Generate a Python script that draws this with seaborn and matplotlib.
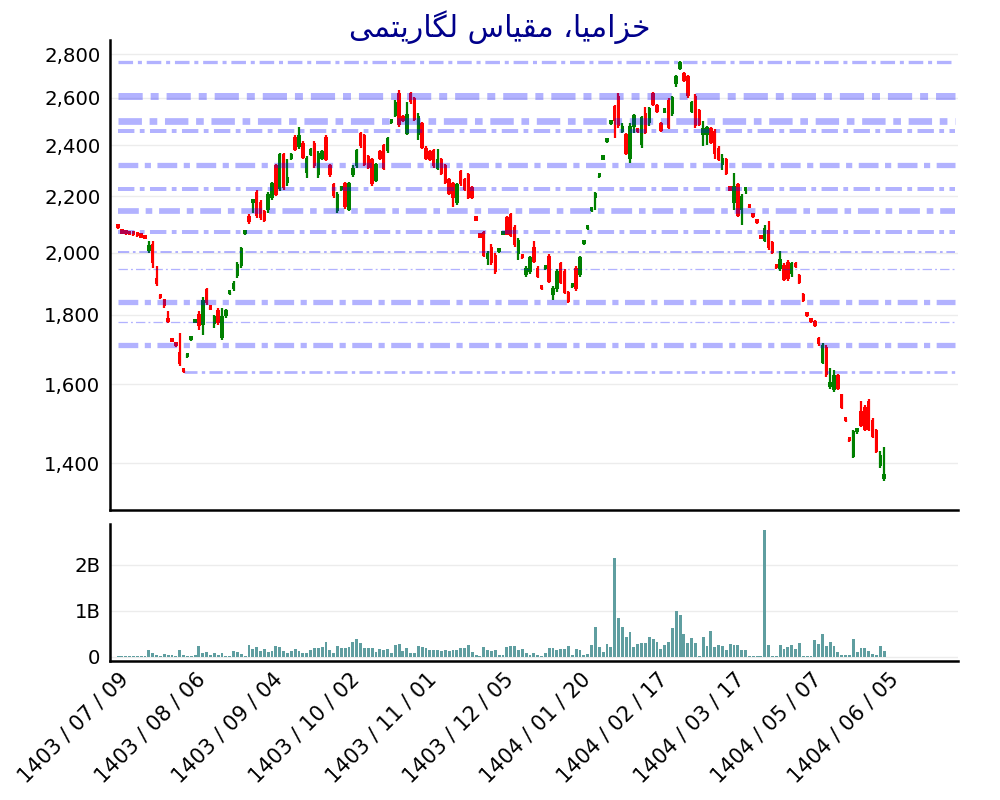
import numpy as np
import pandas as pd
import matplotlib
matplotlib.use('Agg')
import matplotlib.pyplot as plt
from matplotlib.ticker import FuncFormatter, FixedLocator, NullLocator
import seaborn as sns

# title (logical order, shaped below since matplotlib has no Arabic shaping)
title = "خزامیا، مقیاس لگاریتمی"

# x tick labels, one every 20 trading days
tick_labels = ["1403 / 07 / 09", "1403 / 08 / 06", "1403 / 09 / 04", "1403 / 10 / 02",
               "1403 / 11 / 01", "1403 / 12 / 05", "1404 / 01 / 20", "1404 / 02 / 17",
               "1404 / 03 / 17", "1404 / 05 / 07", "1404 / 06 / 05"]

# daily OHLC
opens = [
    2088, 2070, 2067, 2064, 2062, 2060, 2056, 2052, 2005, 2030,
    1915, 1858, 1848, 1790, 1726, 1712, 1690, 1638, 1676, 1724,
    1776, 1803, 1768, 1880, 1822, 1772, 1815, 1732, 1795, 1864,
    1880, 1922, 1955, 2064, 2130, 2175, 2215, 2180, 2145, 2150,
    2195, 2320, 2228, 2365, 2250, 2345, 2435, 2392, 2410, 2288,
    2360, 2410, 2280, 2345, 2432, 2320, 2245, 2145, 2225, 2250,
    2150, 2280, 2315, 2450, 2440, 2355, 2345, 2260, 2375, 2400,
    2375, 2490, 2520, 2620, 2520, 2445, 2620, 2600, 2440, 2490,
    2390, 2375, 2380, 2305, 2345, 2320, 2265, 2250, 2175, 2295,
    2265, 2285, 2235, 2118, 2058, 2070, 1980, 2020, 1993, 2002,
    2062, 2125, 2135, 2090, 1995, 1988, 1925, 1935, 2020, 1950,
    1884, 1945, 1990, 1860, 1880, 1965, 1940, 1870, 1886, 1950,
    1925, 2028, 2082, 2146, 2195, 2272, 2342, 2412, 2486, 2565,
    2610, 2455, 2445, 2345, 2475, 2465, 2400, 2535, 2490, 2620,
    2570, 2490, 2536, 2590, 2530, 2660, 2730, 2710, 2700, 2540,
    2610, 2545, 2440, 2440, 2470, 2460, 2390, 2320, 2345, 2228,
    2175, 2245, 2150, 2220, 2162, 2127, 2107, 2052, 2040, 2080,
    2035, 1952, 1945, 1960, 1970, 1930, 1962, 1925, 1865, 1799,
    1782, 1780, 1730, 1660, 1705, 1592, 1585, 1625, 1573, 1507,
    1457, 1415, 1475, 1530, 1540, 1555, 1505, 1480, 1392, 1362,
]
highs = [
    2090, 2071, 2068, 2066, 2064, 2062, 2058, 2054, 2040, 2040,
    1955, 1860, 1850, 1812, 1728, 1714, 1745, 1640, 1684, 1732,
    1784, 1812, 1855, 1885, 1824, 1800, 1822, 1820, 1818, 1872,
    1905, 1970, 2020, 2072, 2135, 2190, 2225, 2185, 2150, 2215,
    2255, 2325, 2370, 2370, 2345, 2368, 2440, 2475, 2415, 2355,
    2390, 2415, 2375, 2380, 2440, 2325, 2250, 2215, 2240, 2255,
    2255, 2320, 2385, 2455, 2445, 2360, 2350, 2330, 2380, 2405,
    2435, 2500, 2590, 2635, 2525, 2580, 2625, 2605, 2535, 2495,
    2395, 2380, 2385, 2385, 2350, 2325, 2270, 2255, 2250, 2300,
    2270, 2290, 2240, 2120, 2060, 2075, 2005, 2030, 1998, 2008,
    2068, 2130, 2140, 2095, 2050, 1990, 1955, 1990, 2040, 1955,
    1886, 1952, 1995, 1890, 1945, 1970, 1945, 1875, 1893, 1955,
    1990, 2034, 2088, 2152, 2215, 2278, 2348, 2418, 2494, 2570,
    2620, 2490, 2450, 2490, 2530, 2470, 2520, 2560, 2560, 2625,
    2575, 2495, 2544, 2600, 2610, 2705, 2770, 2715, 2705, 2585,
    2615, 2550, 2500, 2480, 2475, 2465, 2395, 2365, 2350, 2230,
    2290, 2250, 2210, 2228, 2164, 2129, 2109, 2054, 2095, 2110,
    2040, 1954, 2005, 1965, 1975, 1970, 1968, 1928, 1868, 1801,
    1784, 1785, 1735, 1715, 1710, 1645, 1640, 1628, 1575, 1509,
    1459, 1482, 1484, 1555, 1545, 1560, 1510, 1484, 1428, 1438,
]
lows = [
    2082, 2064, 2062, 2060, 2058, 2055, 2050, 2046, 2000, 1950,
    1890, 1850, 1822, 1776, 1718, 1704, 1650, 1632, 1674, 1722,
    1774, 1755, 1740, 1830, 1814, 1760, 1770, 1725, 1790, 1862,
    1875, 1915, 1950, 2062, 2100, 2140, 2120, 2115, 2105, 2140,
    2185, 2200, 2220, 2225, 2240, 2340, 2375, 2385, 2345, 2270,
    2355, 2310, 2270, 2340, 2335, 2275, 2195, 2140, 2220, 2155,
    2145, 2275, 2310, 2390, 2315, 2305, 2240, 2255, 2340, 2300,
    2370, 2488, 2515, 2475, 2495, 2440, 2575, 2500, 2420, 2385,
    2340, 2335, 2310, 2300, 2280, 2245, 2205, 2160, 2170, 2240,
    2220, 2190, 2190, 2110, 2050, 1985, 1960, 1960, 1930, 2000,
    2060, 2060, 2055, 2020, 1975, 1980, 1920, 1930, 1965, 1915,
    1878, 1943, 1900, 1845, 1870, 1895, 1865, 1835, 1884, 1875,
    1920, 2026, 2080, 2144, 2150, 2270, 2340, 2410, 2484, 2430,
    2470, 2450, 2360, 2330, 2450, 2450, 2390, 2445, 2480, 2565,
    2535, 2455, 2534, 2465, 2520, 2650, 2725, 2670, 2600, 2535,
    2470, 2480, 2395, 2400, 2405, 2345, 2335, 2300, 2280, 2220,
    2150, 2125, 2095, 2210, 2156, 2121, 2101, 2046, 2035, 2010,
    1995, 1946, 1940, 1905, 1905, 1920, 1948, 1895, 1838, 1793,
    1776, 1762, 1708, 1655, 1620, 1588, 1580, 1585, 1535, 1501,
    1451, 1412, 1472, 1488, 1478, 1478, 1460, 1423, 1388, 1358,
]
closes = [
    2084, 2066, 2064, 2062, 2060, 2057, 2052, 2048, 2025, 1965,
    1895, 1852, 1828, 1778, 1720, 1706, 1655, 1634, 1682, 1730,
    1782, 1765, 1845, 1835, 1816, 1795, 1775, 1795, 1815, 1870,
    1900, 1962, 2015, 2070, 2105, 2188, 2128, 2120, 2110, 2210,
    2250, 2205, 2365, 2232, 2272, 2365, 2382, 2440, 2350, 2350,
    2385, 2315, 2370, 2375, 2340, 2280, 2200, 2210, 2235, 2160,
    2250, 2310, 2380, 2395, 2322, 2310, 2245, 2325, 2345, 2305,
    2430, 2498, 2580, 2482, 2500, 2530, 2580, 2505, 2520, 2390,
    2345, 2340, 2315, 2345, 2285, 2250, 2210, 2195, 2245, 2245,
    2225, 2195, 2195, 2112, 2052, 1990, 2000, 1965, 1935, 2006,
    2066, 2062, 2058, 2025, 2045, 1982, 1950, 1985, 1970, 1918,
    1880, 1950, 1902, 1885, 1940, 1900, 1868, 1838, 1891, 1880,
    1985, 2032, 2086, 2150, 2212, 2276, 2346, 2416, 2492, 2500,
    2480, 2480, 2365, 2480, 2525, 2455, 2515, 2450, 2555, 2570,
    2540, 2460, 2542, 2470, 2605, 2700, 2762, 2675, 2610, 2580,
    2480, 2485, 2470, 2475, 2410, 2365, 2340, 2350, 2285, 2222,
    2240, 2130, 2200, 2226, 2158, 2123, 2103, 2048, 2085, 2015,
    1998, 1948, 1980, 1910, 1912, 1965, 1952, 1900, 1842, 1795,
    1778, 1765, 1712, 1710, 1625, 1605, 1625, 1588, 1538, 1503,
    1453, 1478, 1482, 1492, 1482, 1482, 1463, 1426, 1420, 1375,
]

# daily volume, in billions of shares
volume_b = [
    0.02, 0.01, 0.01, 0.01, 0.01, 0.01, 0.01, 0.01, 0.15, 0.08,
    0.04, 0.02, 0.07, 0.03, 0.04, 0.01, 0.14, 0.03, 0.02, 0.02,
    0.04, 0.24, 0.09, 0.10, 0.05, 0.09, 0.04, 0.08, 0.02, 0.01,
    0.12, 0.10, 0.06, 0.02, 0.25, 0.18, 0.21, 0.12, 0.17, 0.10,
    0.12, 0.24, 0.22, 0.12, 0.08, 0.12, 0.18, 0.12, 0.08, 0.09,
    0.14, 0.20, 0.20, 0.22, 0.33, 0.15, 0.08, 0.24, 0.19, 0.20,
    0.22, 0.33, 0.39, 0.31, 0.20, 0.19, 0.20, 0.10, 0.18, 0.15,
    0.17, 0.09, 0.26, 0.28, 0.12, 0.20, 0.08, 0.08, 0.24, 0.21,
    0.19, 0.14, 0.15, 0.14, 0.12, 0.14, 0.12, 0.14, 0.15, 0.20,
    0.20, 0.25, 0.11, 0.04, 0.02, 0.22, 0.15, 0.12, 0.15, 0.04,
    0.03, 0.21, 0.24, 0.24, 0.15, 0.17, 0.08, 0.04, 0.08, 0.05,
    0.02, 0.09, 0.20, 0.20, 0.15, 0.17, 0.17, 0.24, 0.04, 0.18,
    0.15, 0.05, 0.06, 0.25, 0.64, 0.22, 0.10, 0.28, 0.22, 2.15,
    0.84, 0.66, 0.43, 0.53, 0.21, 0.28, 0.31, 0.31, 0.43, 0.38,
    0.32, 0.17, 0.26, 0.32, 0.62, 1.00, 0.91, 0.49, 0.31, 0.41,
    0.30, 0.02, 0.44, 0.24, 0.57, 0.21, 0.26, 0.24, 0.14, 0.28,
    0.25, 0.25, 0.15, 0.15, 0.01, 0.01, 0.01, 0.01, 2.75, 0.25,
    0.02, 0.01, 0.25, 0.17, 0.21, 0.25, 0.17, 0.30, 0.02, 0.01,
    0.01, 0.37, 0.28, 0.50, 0.24, 0.32, 0.23, 0.10, 0.05, 0.04,
    0.04, 0.38, 0.10, 0.20, 0.19, 0.12, 0.06, 0.04, 0.24, 0.12,
]

# support / resistance levels and the day each one starts
levels = [2764, 2610, 2501, 2457, 2321, 2229, 2146, 2071, 2003, 1947, 1841, 1777, 1711, 1634]
level_start = [0, 0, 0, 0, 0, 0, 0, 0, 0, 0, 0, 0, 0, 17]
level_width_px = [3.3, 7, 6.7, 4, 5.3, 4, 5.7, 4, 2, 1.3, 5.3, 1.3, 5.3, 2.7]


def shape_persian(text):
    # isolated, final, initial, medial presentation forms
    forms = {
        'خ': ('\ufea5', '\ufea6', '\ufea7', '\ufea8'),
        'ز': ('\ufeaf', '\ufeb0', None, None),
        'ا': ('\ufe8d', '\ufe8e', None, None),
        'م': ('\ufee1', '\ufee2', '\ufee3', '\ufee4'),
        'ی': ('\ufbfc', '\ufbfd', '\ufbfe', '\ufbff'),
        'ق': ('\ufed5', '\ufed6', '\ufed7', '\ufed8'),
        'س': ('\ufeb1', '\ufeb2', '\ufeb3', '\ufeb4'),
        'ل': ('\ufedd', '\ufede', '\ufedf', '\ufee0'),
        'گ': ('\ufb92', '\ufb93', '\ufb94', '\ufb95'),
        'ر': ('\ufead', '\ufeae', None, None),
        'ت': ('\ufe95', '\ufe96', '\ufe97', '\ufe98'),
    }
    out = []
    for i, ch in enumerate(text):
        if ch not in forms:
            out.append(ch)
            continue
        prev = text[i - 1] if i > 0 else ''
        nxt = text[i + 1] if i + 1 < len(text) else ''
        join_prev = prev in forms and forms[prev][2] is not None
        join_next = forms[ch][2] is not None and nxt in forms
        if join_prev and join_next:
            out.append(forms[ch][3])
        elif join_next:
            out.append(forms[ch][2])
        elif join_prev:
            out.append(forms[ch][1])
        else:
            out.append(forms[ch][0])
    return ''.join(reversed(out))


df = pd.DataFrame({'open': opens, 'high': highs, 'low': lows, 'close': closes, 'vol': volume_b})
df['day'] = np.arange(len(df))

sns.set_theme(style='white')
plt.rcParams['font.family'] = ['DejaVu Sans']
plt.rcParams['lines.scale_dashes'] = False

fig = plt.figure(figsize=(10, 8), dpi=100)
ax = fig.add_axes([0.110, 0.3625, 0.848, 0.5875])
axv = fig.add_axes([0.110, 0.17375, 0.848, 0.17125])

up_col = '#008000'
down_col = '#ff0000'
up = df['close'] >= df['open']
cols = np.where(up, up_col, down_col)

# candles: wicks then bodies (tiny days get a small visible body)
ax.vlines(df['day'], df['low'], df['high'], colors=cols, lw=1.6, zorder=2)
body_lo = df[['open', 'close']].min(axis=1)
body_h = (df['close'] - df['open']).abs()
body_h = np.maximum(body_h, body_lo * 0.007)
ax.bar(df['day'], body_h, bottom=body_lo, width=0.9, color=cols, linewidth=0, zorder=2)

# dash-dot level lines
for lev, start, w in zip(levels, level_start, level_width_px):
    dash_long = (6 + 2.6 * w) * 0.72
    gap = (2 + 0.85 * w) * 0.72
    dot = (0.5 + 1.07 * w) * 0.72
    ax.plot([start, 217.5], [lev, lev], color=(0, 0, 1, 0.3), lw=w * 0.72,
            linestyle=(0, (dash_long, gap, dot, gap)), solid_capstyle='butt',
            dash_capstyle='butt', zorder=3)

ax.set_yscale('log')
ax.set_ylim(1293, 2868)
ax.set_xlim(-2.1, 218.2)
ax.yaxis.set_major_locator(FixedLocator([1400, 1600, 1800, 2000, 2200, 2400, 2600, 2800]))
ax.yaxis.set_minor_locator(NullLocator())
ax.yaxis.set_major_formatter(FuncFormatter(lambda v, p: f'{v:,.0f}'))
ax.grid(axis='y', color='#ececec', lw=1)
ax.grid(axis='x', visible=False)
ax.set_xticks([])

# volume bars
sns.barplot(data=df, x='day', y='vol', native_scale=True, color='cadetblue',
            saturation=1, width=0.75, errorbar=None, linewidth=0, ax=axv)
axv.set_xlim(-2.1, 218.2)
axv.set_ylim(-0.09, 2.89)
axv.set_yticks([0, 1, 2])
axv.set_yticklabels(['0', '1B', '2B'])
axv.grid(axis='y', color='#ececec', lw=1)
axv.grid(axis='x', visible=False)
axv.set_xlabel('')
axv.set_ylabel('')
axv.set_xticks(np.arange(0, 201, 20))
axv.set_xticklabels(tick_labels, rotation=45, ha='right', rotation_mode='anchor')

for a in (ax, axv):
    for side in ('top', 'right'):
        a.spines[side].set_visible(False)
    for side in ('left', 'bottom'):
        a.spines[side].set_color('black')
        a.spines[side].set_linewidth(1.8)
    a.set_axisbelow(True)
    a.tick_params(axis='both', length=0, labelsize=14.2, colors='black', pad=7)
axv.tick_params(axis='x', labelsize=15, pad=6)

fig.text(0.5, 1 - 27 / 800, shape_persian(title), ha='center', va='center',
         fontsize=21.5, color='#00008b', family=['DejaVu Sans'])

fig.savefig('out.png', dpi=100)
